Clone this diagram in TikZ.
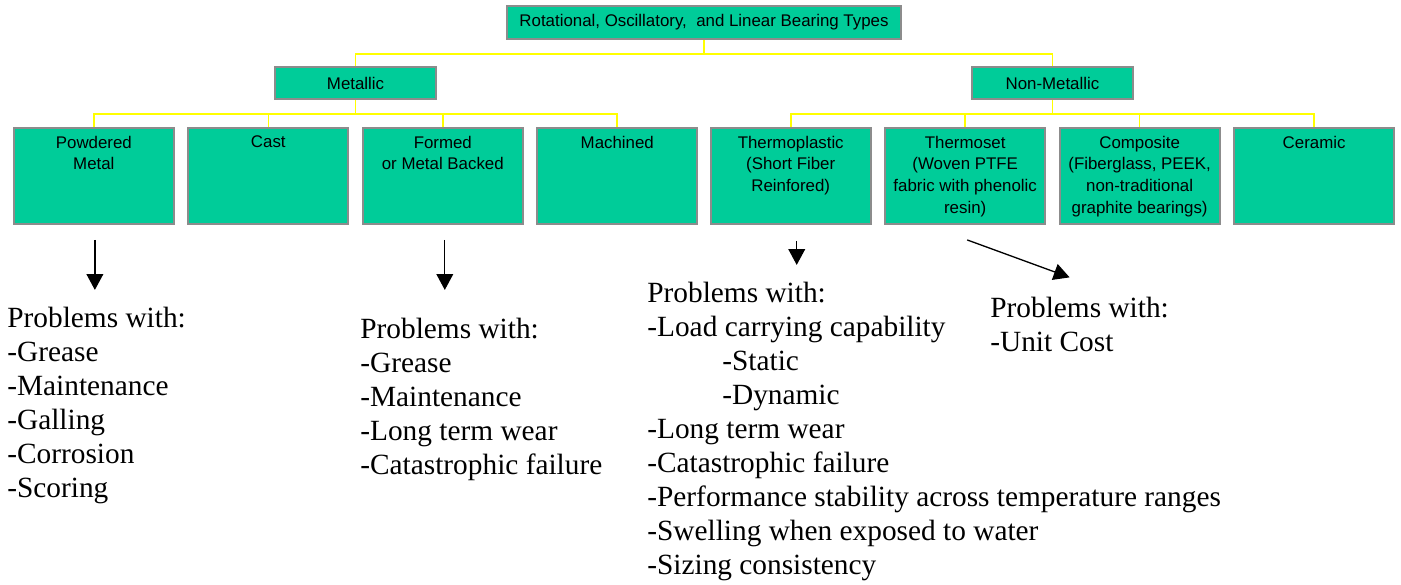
\documentclass[tikz,border=0pt]{standalone}
\usepackage{fontspec}
\setmainfont{Liberation Serif}
\newfontfamily\boxfont{Liberation Sans}
\usetikzlibrary{arrows.meta}
\definecolor{boxteal}{RGB}{0,204,153}
\definecolor{boxedge}{RGB}{140,140,140}
\definecolor{linkyellow}{RGB}{255,255,0}

\begin{document}
\begin{tikzpicture}[x=0.02cm,y=0.02cm,
                    level 1/.style={sibling distance=13.94cm,level distance=1.21cm},
                    level 2/.style={sibling distance=3.49cm,level distance=1.86cm},
                    edge from parent/.style={draw=linkyellow,line width=0.9pt},
                    edge from parent path={(\tikzparentnode.south) -- ++(0,-14) -| (\tikzchildnode.north)},
                    root node/.style={rectangle,draw=boxedge,fill=boxteal,line width=1.1pt,
                                      minimum width=7.88cm,minimum height=0.66cm,
                                      font=\boxfont\fontsize{9.6}{12}\selectfont},
                    group node/.style={root node,minimum width=3.22cm,minimum height=0.64cm},
                    type node/.style={root node,minimum width=3.2cm,minimum height=1.92cm},
                    type text/.style={anchor=north,align=center,inner sep=5pt,
                                      font=\boxfont\fontsize{9.6}{12.3}\selectfont},
                    problem list/.style={anchor=base west,align=left,inner sep=0pt,
                                         font=\fontsize{16.7}{19.3}\selectfont},
                    problem arrow/.style={-{Triangle[width=9.5pt,length=9pt]},line width=0.75pt}]

    \useasboundingbox (0,0) rectangle (1401,-585);

    % Define vertices
    \node[root node] (root) at (704,-22.5) {Rotational, Oscillatory,\ \ and Linear Bearing Types}
        child {node[group node] (met) {Metallic}
        child {node[type node,label={[type text]north:Powdered\\Metal}] (pm) {}}
        child {node[type node,label={[type text]north:Cast}] (cast) {}}
        child {node[type node,label={[type text]north:Formed\\or Metal Backed}] (fmb) {}}
        child {node[type node,label={[type text]north:Machined}] (mach) {}}
        }
        child {node[group node] (nonmet) {Non-Metallic}
        child {node[type node,label={[type text]north:Thermoplastic\\(Short Fiber\\Reinfored)}] (tp) {}}
        child {node[type node,label={[type text]north:Thermoset\\(Woven PTFE\\fabric with phenolic\\resin)}] (ts) {}}
        child {node[type node,label={[type text]north:Composite\\(Fiberglass, PEEK,\\non-traditional\\graphite bearings)}] (comp) {}}
        child {node[type node,label={[type text]north:Ceramic}] (cer) {}}
        }
        ;

    % Problem lists (placed by the baseline of their last line)
    \node[problem list] (pl1) at (7,-497) {Problems with:\\-Grease\\-Maintenance\\-Galling\\-Corrosion\\-Scoring};
    \node[problem list] (pl2) at (360,-474) {Problems with:\\-Grease\\-Maintenance\\-Long term wear\\-Catastrophic failure};
    \node[problem list] (pl3) at (647,-574) {Problems with:\\-Load carrying capability\\\hspace*{1.5cm}-Static\\\hspace*{1.5cm}-Dynamic\\-Long term wear\\-Catastrophic failure\\-Performance stability across temperature ranges\\-Swelling when exposed to water\\-Sizing consistency};
    \node[problem list] (pl4) at (990,-351) {Problems with:\\-Unit Cost};

    % Arrows
    \draw[problem arrow] ([shift={(1,-15)}]pm.south) -- ([shift={(1,-65)}]pm.south);
    \draw[problem arrow] ([shift={(2,-15)}]fmb.south) -- ([shift={(2,-65)}]fmb.south);
    \draw[problem arrow] ([shift={(6,-16)}]tp.south) -- ([shift={(6,-40)}]tp.south);
    \draw[problem arrow] ([shift={(2,-15)}]ts.south) -- ([shift={(-10,19)}]pl4.north);

\end{tikzpicture}
\end{document}
